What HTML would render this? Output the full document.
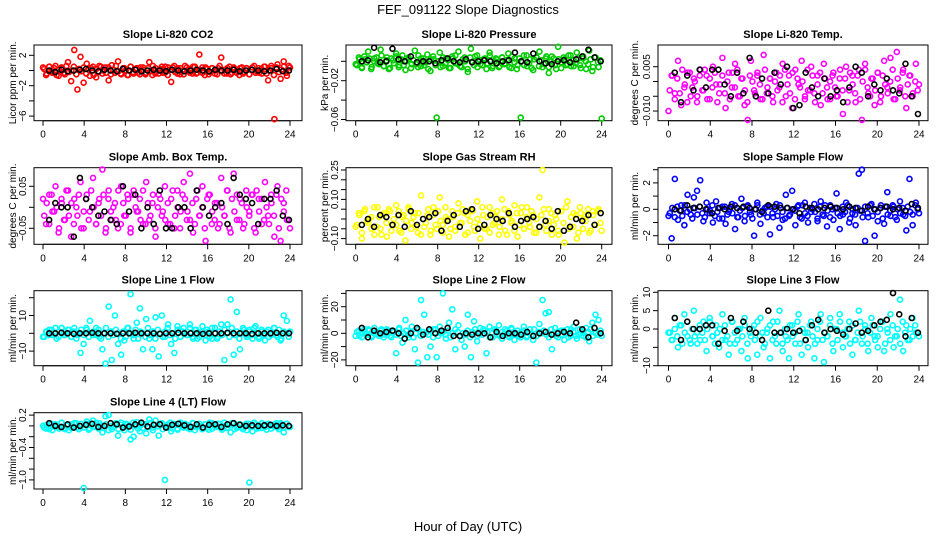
<!DOCTYPE html>
<html><head><meta charset="utf-8"><style>
body{margin:0;background:#fff;}
svg{display:block;font-family:"Liberation Sans",sans-serif;}
</style></head><body>
<svg id="c" width="936" height="540" xmlns="http://www.w3.org/2000/svg">
<rect width="936" height="540" fill="#fff"/>
<text x="468" y="14" text-anchor="middle" font-size="13">FEF_091122  Slope Diagnostics</text>
<text x="468" y="531" text-anchor="middle" font-size="13">Hour of Day (UTC)</text>
</svg>
<script>
// ---- data ----
const xTicks=[0,4,8,12,16,20,24];
const co2Col=[0.4,-0.6,0.5,-0.3,0.6,-0.7,0.3,-0.5,1.1,-1.4,2.7,-2.5,1.8,-1.6,0.9,-0.7,0.5,-0.9,0.6,-0.4,0.4,-1.3,0.7,-0.3,1.2,-0.5,0.3,-0.6,0.5,-0.4,0.3,-0.5,0.4,-0.3,1.1,-0.6,0.3,-0.4,0.5,-0.3,0.4,-1.5,0.6,-0.4,0.3,-0.5,0.4,-0.3,0.5,-0.4,2.1,-0.3,0.4,-0.5,0.3,-0.4,0.3,1.7,-0.4,0.3,-0.5,0.4,-0.3,0.3,-0.4,0.3,-0.5,0.4,-0.3,0.3,-0.4,0.5,-1.3,0.6,-6.4,0.8,-1.1,1.2,-0.7,0.4];
const co2Core=[0.2,-0.4,0.5,-0.1,0.3,-0.6,0.1,0.4,-0.3,0.6,-0.2,0.0,0.5,-0.5,0.2,-0.1,0.4,-0.4,0.1,0.3,-0.6,0.2,-0.2,0.5,0.0,-0.3,0.4,-0.5,0.1,0.6,-0.1,-0.4,0.3,0.0,-0.6,0.5,-0.2,0.2,-0.3,0.4,0.1,-0.5,0.3,-0.1,0.6,-0.4,0.0,0.2,-0.3,0.5,-0.6,0.1,0.4,-0.2,0.3,-0.5,0.0,0.6,-0.1,0.2,-0.4,0.5,-0.3,0.1,0.4,-0.6,0.2,-0.2,0.3,0.0,-0.5,0.6,-0.1,0.1,-0.4,0.5,-0.3,0.2,0.0,-0.6,0.4,-0.2,0.3,-0.5,0.1,0.6,-0.1,-0.3,0.2,0.5,-0.4,0.0,0.3,-0.6,0.4,-0.2,0.1,0.5,-0.3,0.6];
const co2Ref=[0,-0.2,0.1,-0.1,0,0.1,0.2,0,-0.1,0.1,0,-0.1,0.2,0,0.1,-0.1,0,0.1,0,-0.1,0.1,0,-0.1,0,0.1,0,-0.1,0.1,0,0,0.1,-0.1,0,0.1,0,-0.1,0,0.2,-0.1,0];
const presCol=[-0.003,0.004,-0.006,0.002,0.010,-0.008,0.003,-0.002,0.012,-0.005,0.004,-0.007,0.001,0.008,-0.004,0.006,-0.009,0.002,-0.003,0.011,-0.006,0.003,-0.004,0.007,-0.010,0.002,-0.058,0.009,-0.005,0.003,-0.007,0.005,-0.002,0.010,-0.006,0.004,-0.011,0.013,-0.004,0.006,-0.003,0.002,-0.008,0.009,-0.005,0.003,-0.006,0.004,-0.002,0.008,-0.007,0.003,-0.004,-0.058,0.006,-0.005,0.002,-0.009,0.004,0.010,-0.006,0.003,-0.012,0.005,-0.004,0.015,-0.007,0.002,-0.003,0.006,-0.005,0.009,-0.004,0.003,-0.008,0.011,-0.010,0.004,-0.006,-0.059];
const presCore=[-0.004,0.002,-0.007,0.005,-0.001,0.003,-0.006,0.000,0.004,-0.003,0.006,-0.005,0.001,-0.008,0.003,-0.002,0.005,-0.006,0.002,-0.004,0.000,0.004,-0.007,0.001,-0.003,0.006,-0.005,0.003,-0.001,-0.008,0.002,0.005,-0.004,0.000,-0.006,0.004,-0.002,0.001,-0.007,0.003,0.006,-0.003,-0.005,0.002,0.000,-0.008,0.004,-0.001,0.005,-0.006,0.001,-0.004,0.003,-0.002,0.006,-0.007,0.000,0.002,-0.005,0.004,-0.003,0.001,-0.006,0.005,-0.001,-0.008,0.003,0.000,-0.004,0.006,-0.002,-0.007,0.002,0.004,-0.005,0.001,-0.003,0.005,-0.006,0.000,0.003,-0.008,0.002,-0.001,0.004,-0.004,0.006,-0.005,0.001,-0.002,0.003,-0.007,0.005,0.000,-0.003,0.002,-0.006,0.004,-0.001,0.001];
const presRef=[0,0.001,0.014,-0.001,0,0.013,0.002,0,0.005,-0.001,0,0,-0.002,0.001,0.003,0,-0.001,0.002,-0.001,0,0.001,0,-0.002,0,0.001,0.009,0,-0.001,0.008,0,-0.002,-0.003,0,0.001,-0.001,0.002,0.005,0.012,0.004,0];
const tempCol=[-0.010,0.002,-0.004,0.007,-0.008,-0.002,0.003,-0.005,0.001,-0.007,0.004,-0.003,0.002,-0.006,0.005,-0.001,-0.004,0.008,-0.009,0.003,-0.002,0.006,-0.005,0.001,-0.008,-0.013,0.007,-0.003,0.002,-0.006,0.009,-0.004,0.001,-0.007,0.003,-0.002,0.006,-0.005,0.002,-0.009,0.004,-0.001,0.007,-0.006,-0.003,0.005,-0.004,0.002,-0.008,0.006,-0.002,-0.006,0.003,-0.005,0.001,-0.011,0.005,-0.003,0.002,-0.007,0.004,-0.013,0.006,-0.004,0.001,-0.008,0.003,-0.005,0.007,-0.002,0.008,-0.006,0.010,-0.003,0.004,-0.009,0.002,-0.005,0.006,-0.001];
const tempCore=[-0.003,0.002,-0.006,0.001,-0.004,0.004,-0.001,-0.007,0.003,-0.002,0.000,-0.005,0.002,-0.003,0.004,-0.006,0.001,-0.002,0.003,-0.007,-0.001,0.002,-0.004,0.000,-0.006,0.003,-0.002,0.004,-0.005,0.001,-0.003,-0.007,0.002,0.000,-0.004,0.003,-0.001,-0.006,0.004,-0.002,0.001,-0.005,0.000,-0.003,0.002,-0.007,0.004,-0.001,-0.004,0.003,-0.006,0.001,-0.002,0.000,-0.005,0.004,-0.003,0.002,-0.007,-0.001,0.003,-0.004,0.001,-0.006,0.000,0.002,-0.002,-0.005,0.004,-0.003,0.001,-0.007,0.003,-0.001,-0.004,0.002,-0.006,0.000,0.004,-0.002,-0.005,0.001,-0.003,0.003,-0.007,0.002,-0.001,-0.004,0.000,0.004,-0.006,0.001,-0.002,0.003,-0.005,-0.001,0.002,-0.004,0.000,-0.003];
const tempRef=[0.003,-0.007,0.002,-0.003,0.004,-0.002,0.004,0.004,-0.001,-0.005,0.003,-0.004,0.008,-0.005,0.001,-0.004,0.003,-0.001,0.005,-0.009,-0.008,0.003,-0.002,-0.005,0.001,-0.005,-0.003,-0.007,-0.002,0.005,0.003,-0.005,-0.001,-0.003,0.001,-0.003,-0.004,0.006,-0.005,-0.011];
const ambCol=[0.02,-0.04,0.03,-0.01,0.05,-0.06,0.01,-0.03,0.04,-0.07,0.02,-0.02,0.06,-0.05,0.03,-0.01,0.07,-0.04,0.02,0.09,-0.06,0.04,-0.03,0.01,-0.05,0.05,-0.02,0.03,-0.06,0.04,-0.01,0.02,-0.04,0.06,-0.03,0.01,-0.07,0.03,-0.02,0.05,-0.04,0.02,-0.05,0.04,-0.01,0.06,-0.03,0.08,-0.06,0.02,-0.02,0.05,-0.08,0.03,-0.04,0.01,-0.05,0.07,-0.02,0.04,-0.06,0.08,-0.03,0.02,-0.05,0.04,-0.01,0.03,-0.06,0.02,-0.04,0.06,-0.02,0.03,-0.07,0.05,-0.08,0.01,-0.03,-0.05];
const ambCore=[-0.02,0.01,-0.04,0.03,-0.01,0.00,-0.05,0.02,-0.03,0.04,-0.02,0.01,-0.04,0.00,0.03,-0.05,-0.01,0.02,-0.03,0.04,0.00,-0.04,0.01,-0.02,0.03,-0.05,0.02,-0.01,0.00,-0.03,0.04,-0.04,0.01,-0.02,0.02,-0.05,0.03,0.00,-0.01,-0.03,0.04,-0.04,0.01,-0.02,0.03,-0.05,0.00,0.02,-0.01,-0.03,0.01,-0.04,0.04,-0.02,0.00,-0.05,0.03,0.02,-0.01,-0.03,0.01,-0.04,0.04,-0.02,0.00,-0.05,0.02,0.03,-0.01,-0.03,0.01,-0.04,0.00,-0.02,0.04,-0.05,0.02,-0.01,0.03,-0.03,0.01,-0.04,0.00,-0.02,0.03,-0.05,0.04,-0.01,0.02,-0.03,0.00,-0.04,0.01,-0.02,0.03,-0.05,0.02,-0.01,0.04,-0.03];
const ambRef=[-0.03,0.01,0,0,-0.07,0.07,0.02,0,-0.02,-0.01,-0.03,-0.04,0.05,-0.01,0.03,-0.05,0,-0.04,0.04,-0.05,-0.05,0,0,-0.05,0.04,0,-0.02,0,0.01,-0.04,0.07,0.03,0.02,0.01,-0.04,0.02,0.02,0.04,-0.02,-0.03];
const rhCol=[-0.04,0.03,-0.10,0.05,-0.02,0.01,-0.08,0.06,-0.05,0.02,-0.09,0.04,-0.03,0.07,-0.06,0.01,-0.11,0.05,-0.02,0.03,-0.07,0.12,-0.04,0.02,-0.08,0.06,-0.05,0.11,-0.03,0.01,-0.09,0.04,-0.06,0.08,-0.02,0.03,-0.07,0.05,-0.04,0.09,-0.10,0.02,-0.05,0.06,-0.03,0.01,-0.08,0.10,-0.06,0.04,-0.02,0.07,-0.09,0.03,-0.05,0.06,-0.04,0.02,-0.07,0.11,0.25,-0.03,0.05,-0.08,0.02,-0.06,0.04,-0.12,0.09,-0.04,0.03,-0.10,0.06,-0.05,0.02,-0.07,0.04,-0.03,0.05,-0.06];
const rhCore=[-0.03,0.02,-0.07,0.04,-0.01,0.00,-0.05,0.06,-0.04,0.01,-0.08,0.03,-0.02,0.05,-0.06,0.00,-0.03,0.04,-0.07,0.02,-0.01,0.06,-0.05,0.01,-0.04,0.03,-0.08,0.00,-0.02,0.05,-0.06,0.02,-0.03,0.04,-0.01,-0.07,0.06,0.00,-0.05,0.01,-0.04,0.03,-0.02,0.05,-0.08,0.02,-0.01,0.04,-0.06,0.00,-0.03,0.06,-0.05,0.01,-0.07,0.03,-0.02,0.04,-0.04,0.00,0.05,-0.08,0.02,-0.01,-0.06,0.03,-0.03,0.06,-0.05,0.01,-0.02,0.04,-0.07,0.00,-0.04,0.02,0.05,-0.06,-0.01,0.03,-0.03,0.00,-0.08,0.04,-0.02,0.06,-0.05,0.01,-0.04,0.02,-0.07,0.03,0.00,-0.01,0.05,-0.06,0.02,-0.03,0.04,-0.02];
const rhRef=[-0.03,0,-0.04,0.02,0.01,-0.03,0.02,-0.04,0.04,-0.03,0,0.01,0.03,-0.06,-0.01,0.02,-0.04,0.04,0.05,-0.05,-0.03,0.02,0,-0.01,0.03,-0.04,-0.01,0,0.01,-0.04,-0.01,-0.05,0.04,-0.06,-0.04,0,-0.01,0.02,-0.03,0.03];
const sampCol=[-0.5,-2.2,2.3,-0.8,0.3,-1.2,1.1,-0.4,0.9,1.4,2.2,-0.9,0.5,-0.3,-1.0,0.6,-0.7,0.2,-1.1,-0.2,0.4,-1.5,-0.6,0.8,-0.9,0.3,-0.4,-2.0,0.5,-1.1,-0.3,0.2,-1.9,-0.6,0.4,-1.4,-0.8,1.1,-0.5,1.4,-1.2,0.3,-0.7,0.5,-1.0,-0.2,0.4,-0.9,0.6,-0.5,-1.3,0.3,-0.8,1.2,-1.5,-0.4,0.5,-1.0,-0.3,-1.2,2.7,3.0,-2.4,-0.6,0.4,-2.0,-0.9,0.3,-1.1,1.3,-0.5,0.2,-0.8,0.6,-0.4,-1.6,2.3,-1.2,0.5,-0.3];
const sampCore=[-0.3,0.1,-0.6,0.2,-0.1,-0.5,0.3,-0.2,0.0,-0.7,0.1,-0.4,0.2,-0.3,-0.6,0.0,-0.1,0.3,-0.5,-0.2,0.1,-0.7,0.2,-0.4,0.0,-0.3,0.3,-0.6,-0.1,0.1,-0.5,0.2,-0.2,-0.7,0.0,0.3,-0.4,-0.1,0.1,-0.6,0.2,-0.3,0.0,-0.5,0.3,-0.2,-0.7,0.1,-0.4,0.0,-0.1,0.2,-0.6,0.3,-0.3,-0.5,0.1,0.0,-0.2,-0.7,0.2,-0.4,0.3,-0.1,-0.6,0.0,0.1,-0.3,-0.5,0.2,-0.2,0.3,-0.7,0.0,-0.4,0.1,-0.1,-0.6,0.2,-0.3,0.3,-0.5,0.0,-0.2,0.1,-0.7,0.2,-0.4,-0.1,0.3,-0.6,0.0,-0.3,0.1,-0.5,0.2,-0.2,-0.4,0.3,0.0];
const sampRef=[0,-0.1,0.3,0.1,0.2,0,-0.3,0.1,0,0.2,0.1,0.2,0.1,0,-0.2,0.3,0.2,0.1,0.1,0,-0.3,0.2,0.1,0,0.1,0.2,0.1,0,0.2,0.1,-0.1,0.2,0,0.1,0.2,0,0.1,-0.1,0.4,0.1];
const l1Col=[-2,1,2,-1,3,-2,3,-1,2,-2,3,-1,-11,-6,2,7,-1,3,-2,-9,-17,15,-15,10,-6,-12,-4,3,22,-3,6,14,-9,8,-3,-9,9,-13,10,-2,5,-6,-11,4,-2,3,-1,5,-3,2,-2,4,-4,1,-3,3,-2,5,-15,5,19,-12,12,-9,3,-1,2,-3,4,-2,1,-4,2,-1,3,-2,-4,10,7,1];
const l1Core=[-2,1,-1,2,0,-3,1,3,-1,0,2,-2,1,-3,0,2,-1,3,-2,0,1,-1,2,-3,0,3,-2,1,-1,2,0,-3,1,-2,3,0,-1,2,-3,1,0,-2,3,-1,1,-3,2,0,-2,1,3,-1,0,-3,2,-2,1,0,-1,3,-2,2,-3,0,1,-1,2,-2,3,0,-3,1,-1,2,0,-2,3,-1,1,-3,0,2,-2,1,-1,3,0,-3,2,-1,1,-2,0,3,-1,2,-3,1,0,-2];
const l1Ref=[0,0,0.3,0,-0.3,0,0,0.3,0,0,0,-0.3,0,0,0.3,0,0,0,-0.3,0,0,0.3,0,0,0,-0.3,0,0,0,0.3,0,0,0,-0.3,0,0,0,0.3,0,0];
const l2Col=[-2,2,-3,1,3,-2,4,-1,2,-3,3,-2,2,-15,4,-7,10,-3,5,-12,-22,25,14,-18,-10,3,-18,5,30,-4,8,18,-12,6,-5,-10,14,-18,9,-6,4,3,-15,5,-3,2,6,-4,3,-2,4,-5,2,-3,5,-2,3,-5,-22,7,25,15,16,-12,4,-3,2,-5,3,-2,5,-4,3,-2,4,-6,8,14,10,-2];
const l2Core=[1,-2,0,3,-1,2,-3,0,1,-2,3,-1,0,2,-3,1,-1,3,-2,0,2,-1,1,-3,0,3,-2,1,0,-1,2,-3,3,-2,0,1,-1,2,-3,0,3,1,-2,0,-1,2,-3,1,3,-2,0,-1,2,1,-3,0,3,-1,-2,1,0,2,-3,3,-1,0,-2,1,2,-3,0,-1,3,-2,1,0,2,-1,-3,3,0,-2,1,-1,2,0,-3,3,1,-2,-1,0,2,-3,1,3,-2,0,-1,2];
const l2Ref=[4,-3,2,0,1,2,0,-4,0,4,-1,3,0,2,4,-2,-2,0,-1,0,0,-3,1,-2,0,0,-1,1,-2,0,1,-1,0,1,0,8,3,-3,4,0];
const l3Col=[-1,-3,3,-5,1,4,-2,-4,5,-1,-3,2,-6,3,-2,1,-5,4,-3,-7,2,-4,0,-6,3,-8,-2,1,-7,3,-5,-1,-8,2,-4,5,-6,-2,-8,1,-4,4,-7,-1,-5,2,-8,-3,4,-9,-2,3,-6,0,4,-5,-2,2,-7,-3,5,-4,1,-6,3,-2,-5,2,-6,0,4,-5,-2,8,-6,1,-3,3,-1,-2];
const l3Core=[-1,-3,0,-2,1,-4,-1,2,-3,0,-2,-4,1,-1,-3,0,2,-2,-4,-1,0,-3,1,-2,-4,2,-1,-3,0,-2,1,-4,-1,0,-3,2,-2,-1,-4,0,1,-3,-2,2,-1,-4,0,-3,1,-2,-1,2,-4,0,-3,-1,1,-2,-4,0,2,-3,-1,-2,1,-4,0,-3,2,-1,-2,0,-4,1,-3,-1,2,-2,0,-4,-1,1,-3,-2,0,2,-4,-1,-3,1,-2,0,-4,2,-1,-3,0,-2,1,-1];
const l3Ref=[3,-3,2,0,0,1,1,-4,-0.5,3,-0.5,2,0,-1,-3,5,-1,-1,0,-1,-0.5,-3,1,2.5,-1,0,-0.5,-1.5,0,1.5,-1,-0.5,1,2,2.5,9.8,4,-2,3,-1];
const l4Col=[0,-0.05,0.05,-0.08,0.03,-0.02,0.06,-0.06,0.02,-0.04,0.05,-0.03,0.04,-1.15,0.08,-0.05,0.10,-0.02,0.05,-0.12,0.18,0.20,-0.06,0.04,-0.18,0.06,-0.08,0.03,-0.25,-0.20,0.07,-0.10,0.04,-0.14,0.12,-0.03,0.10,-0.18,0.05,-1.0,0.03,-0.10,0.04,-0.05,0.06,-0.03,0.02,-0.06,0.05,-0.02,0.04,-0.05,0.03,-0.07,0.05,-0.02,0.04,-0.04,0.06,-0.03,-0.12,0.05,-0.04,0.03,-0.06,0.04,-1.05,-0.10,0.03,-0.04,0.05,-0.02,0.04,-0.05,0.03,-0.03,0.05,-0.12,0.04,-0.02];
const l4Core=[-0.03,0.02,-0.06,0.04,-0.01,0.00,-0.05,0.06,-0.04,0.01,-0.08,0.03,-0.02,0.05,-0.06,0.00,-0.03,0.04,-0.07,0.02,-0.01,0.06,-0.05,0.01,-0.04,0.03,-0.08,0.00,-0.02,0.05,-0.06,0.02,-0.03,0.04,-0.01,-0.07,0.06,0.00,-0.05,0.01,-0.04,0.03,-0.02,0.05,-0.08,0.02,-0.01,0.04,-0.06,0.00,-0.03,0.06,-0.05,0.01,-0.07,0.03,-0.02,0.04,-0.04,0.00,0.05,-0.08,0.02,-0.01,-0.06,0.03,-0.03,0.06,-0.05,0.01,-0.02,0.04,-0.07,0.00,-0.04,0.02,0.05,-0.06,-0.01,0.03,-0.03,0.00,-0.08,0.04,-0.02,0.06,-0.05,0.01,-0.04,0.02,-0.07,0.03,0.00,-0.01,0.05,-0.06,0.02,-0.03,0.04,-0.02];
const l4Ref=[0.05,0,-0.02,0.03,-0.03,0,0.02,0.04,-0.02,0,0.05,0.03,-0.03,-0.01,0.03,0.06,-0.01,0.02,0.03,-0.03,0.02,0.04,0.01,-0.02,0.03,-0.03,0.02,0.03,-0.02,0.03,0.05,0.02,0,0.01,0,0.01,0.02,0,0.01,0];
const co2Ticks=[2,0,-2,-4,-6], co2Labels=["2","","−2","","−6"];
const presTicks=[0,-0.02,-0.04,-0.06], presLabels=["","−0.02","","−0.06"];
const tempTicks=[0.005,0,-0.005,-0.010], tempLabels=["0.005","","","−0.010"];
const ambTicks=[0.05,0,-0.05], ambLabels=["0.05","","−0.05"];
const rhTicks=[0.25,0.2,0.15,0.1,0.05,0,-0.05,-0.1], rhLabels=["0.25","","","0.10","","","","−0.10"];
const sampTicks=[3,2,1,0,-1,-2], sampLabels=["","2","","0","","−2"];
const l1Ticks=[20,10,0,-10], l1Labels=["","10","","−10"];
const l2Ticks=[30,20,10,0,-10,-20], l2Labels=["","20","","0","","−20"];
const l3Ticks=[10,5,0,-5,-10], l3Labels=["10","5","0","","−10"];
const l4Ticks=[0.2,0,-0.2,-0.4,-0.6,-0.8,-1.0], l4Labels=["0.2","","","−0.4","","","−1.0"];

// ---- layout ----
const cols=[{l:34,r:302,x0:43,x24:290,yl:9},{l:346,r:612,x0:355.7,x24:601.7,yl:321},{l:658,r:928,x0:668.5,x24:919,yl:631}];
const rows=[{t:45,b:120.7},{t:167.7,b:244.3},{t:290.7,b:365.7},{t:412.7,b:489}];
const NS="http://www.w3.org/2000/svg";
const svg=document.getElementById('c');
function mk(tag,attrs,parent){const e=document.createElementNS(NS,tag);for(const k in attrs)e.setAttribute(k,attrs[k]);(parent||svg).appendChild(e);return e;}

function panel(name,title,ylab,ci,ri,col,core,ref,color,ticks,labels,v0,p0,pxPerUnit){
  const C=cols[ci],R=rows[ri];
  const g=mk('g',{});
  
  
  const xs=h=>C.x0+(C.x24-C.x0)*h/24;
  const ys=v=>p0-(v-v0)*pxPerUnit;
  const t=mk('text',{x:(C.l+C.r)/2,y:R.t-7,'text-anchor':'middle','font-size':11,'font-weight':'bold'},g);
  t.textContent=title;
  
  
  const yl=mk('text',{x:0,y:0,'text-anchor':'middle','font-size':10,transform:`translate(${C.yl+7},${(R.t+R.b)/2}) rotate(-90)`},g);
  yl.textContent=ylab;
  
  
  const xa=mk('g',{},g);
  
  
  mk('line',{x1:xs(0),x2:xs(24),y1:R.b,y2:R.b,stroke:'#000'},xa);
  xTicks.forEach(h=>{
    mk('line',{x1:xs(h),x2:xs(h),y1:R.b,y2:R.b+5,stroke:'#000'},xa);
    const tx=mk('text',{x:xs(h),y:R.b+17,'text-anchor':'middle','font-size':10},xa);
    tx.textContent=h;
    
    
  });
  const ya=mk('g',{},g);
  
  
  const tp=ticks.map(ys);
  mk('line',{x1:C.l,x2:C.l,y1:Math.min(...tp),y2:Math.max(...tp),stroke:'#000'},ya);
  ticks.forEach((v,i)=>{
    const y=ys(v);
    mk('line',{x1:C.l-5,x2:C.l,y1:y,y2:y,stroke:'#000'},ya);
    if(labels[i]){
      const tx=mk('text',{x:0,y:0,'text-anchor':'middle','font-size':10,transform:`translate(${C.l-8},${y}) rotate(-90)`},ya);
      tx.textContent=labels[i];
      
      
    }
  });
  const box=mk('rect',{x:C.l,y:R.t,width:C.r-C.l,height:R.b-R.t,fill:'none',stroke:'#000'},g);
  
  
  const pts=mk('g',{},g);
  core.forEach((v,i)=>{
    const c=mk('circle',{cx:xs(24*(i+0.5)/core.length),cy:ys(v),r:2.5,fill:'none',stroke:color,'stroke-width':1.6},pts);
    
    
  });
  col.forEach((v,i)=>{
    const c=mk('circle',{cx:xs(24*i/(col.length-1)),cy:ys(v),r:2.5,fill:'none',stroke:color,'stroke-width':1.6},pts);
    
    
  });
  ref.forEach((v,i)=>{
    const c=mk('circle',{cx:xs(0.6+23.3*i/(ref.length-1)),cy:ys(v),r:2.5,fill:'none',stroke:'#000','stroke-width':1.6},pts);
    
    
  });
}
panel('co2','Slope Li-820 CO2','Licor ppm per min.',0,0,co2Col,co2Core,co2Ref,'#ff0000',co2Ticks,co2Labels,0,70.5,7.6);
panel('pressure','Slope Li-820 Pressure','kPa per min.',1,0,presCol,presCore,presRef,'#00cd00',presTicks,presLabels,0,61.3,970);
panel('temp','Slope Li-820 Temp.','degrees C per min.',2,0,tempCol,tempCore,tempRef,'#ff00ff',tempTicks,tempLabels,0,81.5,2954);
panel('amb-temp','Slope Amb. Box Temp.','degrees C per min.',0,1,ambCol,ambCore,ambRef,'#ff00ff',ambTicks,ambLabels,0,207.3,420);
panel('rh','Slope Gas Stream RH','percent per min.',1,1,rhCol,rhCore,rhRef,'#ffff00',rhTicks,rhLabels,0,219,196);
panel('sample-flow','Slope Sample Flow','ml/min per min.',2,1,sampCol,sampCore,sampRef,'#0000ff',sampTicks,sampLabels,0,209.3,13.2);
panel('line1','Slope Line 1 Flow','ml/min per min.',0,2,l1Col,l1Core,l1Ref,'#00ffff',l1Ticks,l1Labels,0,333.3,1.78);
panel('line2','Slope Line 2 Flow','ml/min per min.',1,2,l2Col,l2Core,l2Ref,'#00ffff',l2Ticks,l2Labels,0,333.3,1.33);
panel('line3','Slope Line 3 Flow','ml/min per min.',2,2,l3Col,l3Core,l3Ref,'#00ffff',l3Ticks,l3Labels,0,329,3.67);
panel('line4','Slope Line 4 (LT) Flow','ml/min per min.',0,3,l4Col,l4Core,l4Ref,'#00ffff',l4Ticks,l4Labels,0,425.9,54);
</script>
</body></html>
